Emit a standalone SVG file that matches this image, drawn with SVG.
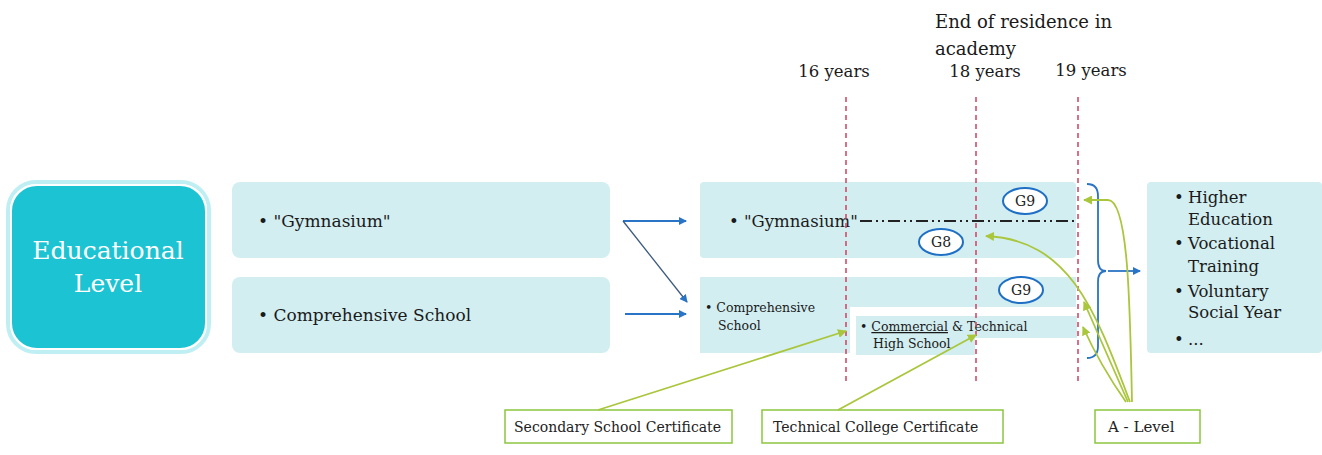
<svg xmlns="http://www.w3.org/2000/svg" width="1322" height="455" viewBox="0 0 1322 455">
<style>
.t{font-family:"DejaVu Serif","Liberation Serif",serif;fill:#1a1a1a}
.box{fill:#d2eef1}
.g{fill:#fff;stroke:#8cc63f;stroke-width:1.5}
.gt{font-family:"DejaVu Serif","Liberation Serif",serif;font-size:14px;fill:#222}
.ell{fill:#fff;stroke:#1f6fc5;stroke-width:2}
.et{font-family:"DejaVu Serif","Liberation Serif",serif;font-size:14px;fill:#222;text-anchor:middle}
.red{stroke:#d0405e;stroke-width:1.5;stroke-dasharray:5,4;fill:none}
.blue{stroke:#2a74c6;stroke-width:1.8;fill:none}
.green{stroke:#a9c63c;stroke-width:1.8;fill:none}
</style>
<defs>
<marker id="ab" markerWidth="8" markerHeight="8" refX="7" refY="4" orient="auto" markerUnits="userSpaceOnUse"><path d="M0,0 L8,4 L0,8 z" fill="#2a74c6"/></marker>
<marker id="ag" markerWidth="9" markerHeight="9" refX="8" refY="4.5" orient="auto" markerUnits="userSpaceOnUse"><path d="M0,0 L9,4.5 L0,9 z" fill="#a9c63c"/></marker>
</defs>
<rect width="1322" height="455" fill="#fff"/>

<g id="educational-level">
<rect x="8" y="182" width="201" height="170" rx="28" fill="none" stroke="#bfeff3" stroke-width="4"/>
<rect x="11" y="185" width="195" height="164" rx="26" fill="#1cc3d3" stroke="#fff" stroke-width="2"/>
<text x="108" y="259" text-anchor="middle" class="t" style="fill:#fff;font-size:25px">Educational</text>
<text x="108" y="292" text-anchor="middle" class="t" style="fill:#fff;font-size:25px">Level</text>
</g>

<g id="gymnasium-left">
<rect class="box" x="232" y="182" width="378" height="76" rx="8"/>
<text x="258" y="227" class="t" style="font-size:17px">• "Gymnasium"</text>
</g>
<g id="comprehensive-left">
<rect class="box" x="232" y="277" width="378" height="76" rx="8"/>
<text x="258" y="321" class="t" style="font-size:17px">• Comprehensive School</text>
</g>

<g id="gymnasium-right">
<rect class="box" x="700" y="182" width="376" height="76" rx="4"/>
<text x="729" y="227" class="t" style="font-size:16.5px">• "Gymnasium"</text>
</g>
<g id="comprehensive-right">
<path class="box" d="M700,277 H1076 V307 H850 V353 H700 Z"/>
<text x="705" y="312" class="t" style="font-size:12.5px">• Comprehensive</text>
<text x="718" y="330" class="t" style="font-size:12.5px">School</text>
</g>
<g id="commercial">
<path class="box" d="M856,316 H1077 V338 H975 V355 H856 Z"/>
<text x="860" y="331" class="t" style="font-size:12.5px">• <tspan text-decoration="underline">Commercial</tspan> &amp; Technical</text>
<text x="873" y="348" class="t" style="font-size:12.5px">High School</text>
</g>

<g id="outcomes">
<rect class="box" x="1147" y="182" width="175" height="171" rx="4"/>
<g class="t" style="font-size:16.5px">
<text x="1174" y="203">•</text><text x="1188" y="203">Higher</text>
<text x="1188" y="225">Education</text>
<text x="1174" y="249">•</text><text x="1188" y="249">Vocational</text>
<text x="1188" y="272">Training</text>
<text x="1174" y="297">•</text><text x="1188" y="297">Voluntary</text>
<text x="1188" y="318">Social Year</text>
<text x="1174" y="345">•</text><text x="1188" y="345">...</text>
</g>
</g>

<g id="labels">
<text x="935" y="28" class="t" style="font-size:18px">End of residence in</text>
<text x="935" y="55" class="t" style="font-size:18px">academy</text>
<text x="834" y="77" text-anchor="middle" class="t" style="font-size:16.5px">16 years</text>
<text x="985" y="77" text-anchor="middle" class="t" style="font-size:16.5px">18 years</text>
<text x="1091" y="76" text-anchor="middle" class="t" style="font-size:16.5px">19 years</text>
</g>

<g id="g9-top"><ellipse class="ell" cx="1025" cy="201" rx="22" ry="13"/><text x="1025" y="206" class="et">G9</text></g>
<g id="g8"><ellipse class="ell" cx="941" cy="242" rx="22" ry="13"/><text x="941" y="247" class="et">G8</text></g>
<g id="g9-bottom"><ellipse class="ell" cx="1021" cy="290" rx="22" ry="13"/><text x="1021" y="295" class="et">G9</text></g>

<g id="secondary-cert"><rect class="g" x="505" y="410" width="227" height="33"/><text x="514" y="432" class="gt">Secondary School Certificate</text></g>
<g id="technical-cert"><rect class="g" x="762" y="410" width="241" height="33"/><text x="773" y="432" class="gt">Technical College Certificate</text></g>
<g id="a-level"><rect class="g" x="1095" y="410" width="105" height="33"/><text x="1108" y="432" class="gt" style="font-size:15px">A - Level</text></g>

<g id="connectors">
<line class="red" x1="846" y1="97" x2="846" y2="382"/>
<line class="red" x1="976" y1="97" x2="976" y2="382"/>
<line class="red" x1="1078" y1="97" x2="1078" y2="382"/>
<line x1="860" y1="221" x2="1078" y2="221" stroke="#222" stroke-width="2" stroke-dasharray="12,4,2,4,2,4"/>
<line class="blue" x1="623" y1="221" x2="686" y2="221" marker-end="url(#ab)"/>
<line x1="623" y1="221" x2="687" y2="302" stroke="#3d5a80" stroke-width="1.3" marker-end="url(#ab)"/>
<line class="blue" x1="625" y1="314" x2="686" y2="314" marker-end="url(#ab)"/>
<path class="blue" d="M1087,184 Q1098,184 1098,196 V260 Q1098,271 1106,271 Q1098,271 1098,282 V346 Q1098,358 1087,358"/>
<line class="blue" x1="1108" y1="271" x2="1140" y2="271" marker-end="url(#ab)"/>
<line class="green" x1="598" y1="410" x2="846" y2="331" marker-end="url(#ag)"/>
<line class="green" x1="838" y1="410" x2="976" y2="335" marker-end="url(#ag)"/>
<path class="green" d="M1132,402 C1130,300 1128,200 1108,200 L1084,200" marker-end="url(#ag)"/>
<path class="green" d="M1130,402 C1095,310 1070,240 986,236" marker-end="url(#ag)"/>
<path class="green" d="M1128,402 Q1105,350 1084,302" marker-end="url(#ag)"/>
<path class="green" d="M1126,402 Q1100,365 1083,327" marker-end="url(#ag)"/>
</g>
</svg>
